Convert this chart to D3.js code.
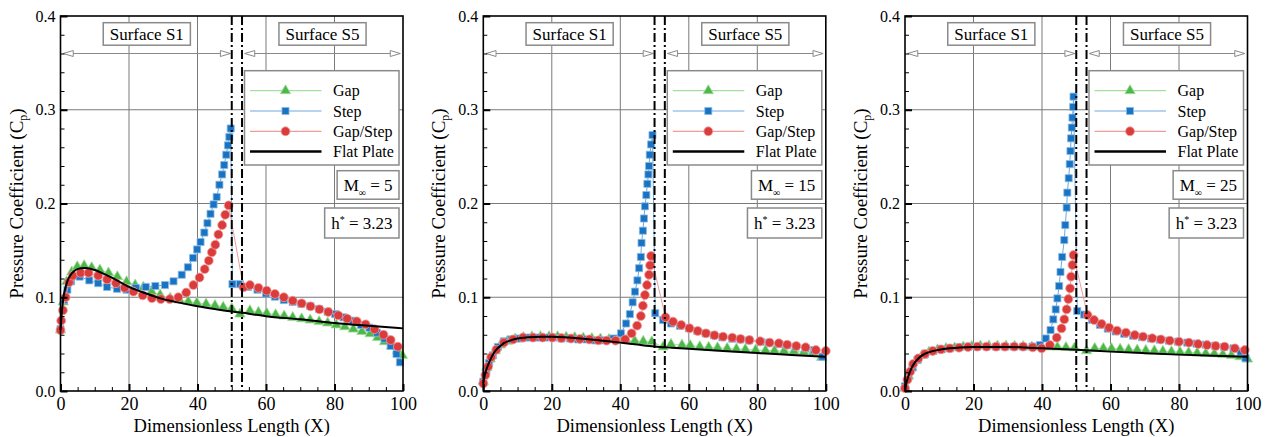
<!DOCTYPE html>
<html>
<head>
<meta charset="utf-8">
<script src="https://cdn.jsdelivr.net/npm/d3@7"></script>
<style>
body { margin: 0; background: #fff; }
</style>
</head>
<body>
<script>
var w = 1276, h = 437;

// ---- data ----
var machNumbers = [5, 15, 25];
var hStar = "3.23";
var seriesNames = ["Gap", "Step", "Gap/Step", "Flat Plate"];
var xTicks = [0, 20, 40, 60, 80, 100];
var yTicks = [0, 0.1, 0.2, 0.3, 0.4];
var gapEdges = [50, 53];
var surfaceNames = ["Surface S1", "Surface S5"];
var surfaceStart = [0.8, 53.8];
var surfaceEnd = [49.6, 99.2];
var surfaceArrowY = 0.36;

var gapM5 = [[0,0.065],[0.8,0.095],[1.8,0.1166],[3.3,0.127],[4.9,0.1326],[6.9,0.1337],[9.1,0.1316],[11.5,0.129],[14,0.126],[16.6,0.122],[19.3,0.1166],[21.8,0.113],[24.2,0.1106],[26.6,0.106],[29.1,0.1025],[32,0.099],[34.7,0.097],[37.3,0.0955],[39.8,0.094],[42.5,0.0928],[45.1,0.0912],[47.5,0.0895],[50,0.088],[52.4,0.082],[55.3,0.0857],[57.8,0.084],[60.2,0.083],[62.8,0.0815],[65.3,0.080],[67.8,0.0785],[70.4,0.077],[72.9,0.0757],[75.5,0.074],[78,0.0725],[80.5,0.0705],[83,0.0685],[85.5,0.066],[88,0.0635],[90.4,0.061],[92.6,0.057],[94.6,0.0525],[96.6,0.048],[98.4,0.043],[99.8,0.038]];
var stepM5 = [[0,0.066],[1,0.097],[2,0.108],[3.1,0.117],[5.6,0.122],[8.4,0.118],[11,0.115],[13.6,0.111],[16.5,0.109],[19.3,0.108],[22,0.110],[24.9,0.111],[27.7,0.112],[30.5,0.113],[33,0.117],[35.4,0.124],[37.2,0.132],[38.7,0.142],[39.9,0.151],[40.9,0.159],[42,0.169],[42.9,0.179],[43.8,0.189],[44.7,0.199],[45.6,0.207],[46.4,0.220],[47.2,0.231],[47.8,0.241],[48.4,0.252],[48.9,0.262],[49.3,0.271],[49.7,0.280],[50.2,0.114],[52.4,0.114],[54.8,0.111],[57.5,0.108],[60,0.104],[62.6,0.1006],[65.2,0.097],[67.8,0.095],[70.3,0.093],[72.9,0.0907],[75.5,0.0875],[78,0.0846],[80.2,0.082],[82.6,0.0786],[85.2,0.075],[87.7,0.0704],[90.2,0.0675],[92.4,0.0622],[94.6,0.0558],[96.4,0.048],[98.1,0.0395],[99.1,0.0306]];
var gapStepM5 = [[0,0.065],[0.2,0.075],[0.7,0.086],[1.5,0.100],[2.5,0.116],[3.6,0.123],[5.9,0.126],[8.2,0.126],[11,0.123],[13.6,0.119],[16.2,0.115],[18.7,0.110],[21.3,0.106],[24,0.102],[26.7,0.099],[29.3,0.098],[31.9,0.098],[34.4,0.100],[36.7,0.105],[38.8,0.113],[40.6,0.121],[42.1,0.130],[43.3,0.139],[44.2,0.148],[45.2,0.156],[46.1,0.167],[47.2,0.177],[48.1,0.188],[49.1,0.198],[53.4,0.1106],[55.3,0.113],[57.8,0.110],[60.2,0.107],[62.6,0.1035],[65.2,0.100],[67.8,0.0963],[70.4,0.0935],[73,0.0903],[75.6,0.0871],[78.2,0.0843],[81.1,0.0807],[83.7,0.0772],[86.5,0.0743],[89.1,0.0711],[91.7,0.0658],[94.3,0.060],[96.4,0.0544],[98.5,0.0473]];
var flatM5 = [[0,0.065],[0.3,0.08],[0.6,0.092],[1,0.103],[1.5,0.111],[2,0.117],[3,0.124],[4,0.128],[5,0.130],[6,0.131],[7,0.1312],[8,0.131],[10,0.129],[12,0.126],[15,0.121],[20,0.111],[25,0.104],[30,0.098],[35,0.094],[40,0.0905],[45,0.0875],[50,0.0848],[55,0.0825],[60,0.0798],[70,0.0765],[80,0.0725],[90,0.0695],[100,0.0668]];

var gapM15 = [[0,0.010],[1,0.025],[2,0.034],[3.5,0.043],[5,0.049],[7,0.053],[9.3,0.0555],[11.7,0.057],[14.2,0.0578],[16.7,0.058],[19.2,0.058],[21.7,0.058],[24.2,0.0575],[26.7,0.057],[29.2,0.0565],[31.7,0.056],[34.2,0.0555],[36.7,0.055],[39.2,0.0545],[41.7,0.054],[44.2,0.0535],[46.7,0.053],[49.2,0.0525],[52.5,0.047],[54.8,0.0498],[58,0.049],[60.4,0.0487],[63.2,0.0473],[65.8,0.0466],[68.4,0.0462],[71.2,0.0455],[73.9,0.0448],[76.5,0.0444],[79.5,0.0437],[82.4,0.0433],[85,0.043],[87.8,0.0426],[90.7,0.0423],[93.6,0.0416],[96.3,0.041],[98.8,0.0358]];
var stepM15 = [[0,0.010],[0.9,0.021],[1.7,0.030],[2.8,0.038],[4.3,0.047],[6,0.053],[8.2,0.055],[10.6,0.056],[13.1,0.057],[15.5,0.057],[18,0.057],[20.4,0.057],[22.8,0.056],[25.3,0.056],[27.7,0.055],[30.1,0.055],[32.6,0.054],[35,0.054],[38,0.056],[40.2,0.0615],[41.7,0.072],[42.8,0.082],[43.6,0.0946],[44.3,0.106],[45,0.118],[45.5,0.131],[46,0.143],[46.2,0.158],[46.6,0.171],[46.9,0.184],[47.2,0.197],[47.6,0.209],[47.9,0.221],[48.2,0.231],[48.4,0.240],[48.6,0.252],[49,0.263],[49.4,0.273],[50.2,0.083],[52.5,0.0757],[54.8,0.072],[57.4,0.0695],[60,0.0669],[62.5,0.064],[64.9,0.0615],[67.3,0.0594],[69.8,0.0573],[72.7,0.0558],[75.1,0.055],[77.6,0.054],[81,0.0526],[83.4,0.0516],[86.3,0.050],[88.7,0.0487],[91.2,0.0473],[94.1,0.0455],[96.6,0.0437],[99,0.0366]];
var gapStepM15 = [[0,0.008],[0.6,0.017],[1.4,0.026],[2.3,0.036],[3.8,0.044],[6,0.0516],[8.7,0.055],[11.6,0.057],[14.5,0.057],[17.3,0.057],[20.1,0.057],[22.8,0.0565],[25.6,0.056],[28.2,0.0555],[31,0.055],[33.6,0.054],[36,0.0537],[38.6,0.0537],[41.4,0.055],[43.3,0.0615],[44.9,0.0697],[46,0.080],[46.6,0.091],[47.2,0.1024],[47.8,0.113],[48.4,0.124],[48.7,0.134],[49,0.144],[53.2,0.0786],[55.4,0.074],[57.8,0.0704],[60.2,0.0669],[62.6,0.064],[65,0.0615],[67.5,0.0594],[70,0.058],[72.7,0.0569],[75.1,0.0555],[77.7,0.0544],[80.8,0.053],[83.6,0.0516],[86.3,0.0509],[88.7,0.0494],[91.4,0.048],[94.1,0.0466],[97.1,0.0437],[100,0.0427]];
var flatM15 = [[0,0.008],[0.5,0.018],[1,0.024],[2,0.033],[3,0.040],[4,0.045],[5,0.048],[6,0.051],[8,0.054],[10,0.056],[13,0.0573],[17,0.058],[20,0.058],[25,0.057],[30,0.0555],[35,0.0535],[40,0.0516],[45,0.0495],[50,0.0475],[55,0.0462],[60,0.045],[70,0.0427],[80,0.0405],[90,0.0385],[100,0.0366]];

var gapM25 = [[0,0.003],[1,0.016],[2,0.025],[3.5,0.033],[5,0.038],[7,0.0415],[9.5,0.044],[12,0.0455],[14.5,0.046],[17,0.047],[19.5,0.0475],[22,0.048],[24.5,0.048],[27,0.048],[29.5,0.048],[32,0.0478],[34.5,0.0475],[37,0.047],[39.5,0.047],[42,0.047],[44.5,0.0468],[47,0.0465],[49.5,0.046],[53,0.043],[55.4,0.0455],[57.9,0.0455],[60.3,0.0452],[62.8,0.0447],[65.3,0.0442],[67.8,0.0437],[70.3,0.0433],[72.8,0.043],[75.3,0.0425],[77.8,0.042],[80.3,0.0415],[82.8,0.041],[85.3,0.0405],[87.8,0.040],[90.3,0.0397],[92.8,0.039],[95.3,0.038],[97.8,0.0365],[100,0.034]];
var stepM25 = [[0,0.005],[1,0.015],[2.2,0.025],[3.6,0.033],[5.8,0.039],[8.3,0.0427],[10.7,0.0444],[13.1,0.0455],[15.9,0.0466],[18.5,0.0473],[21.1,0.0473],[23.8,0.0473],[26.6,0.0473],[29.2,0.0473],[31.8,0.0473],[34.5,0.0473],[37.2,0.0473],[39.4,0.049],[41.1,0.056],[42.5,0.065],[43.3,0.0764],[44,0.087],[44.5,0.0988],[45,0.112],[45.4,0.127],[45.9,0.143],[46.5,0.161],[46.8,0.177],[47.2,0.1956],[47.4,0.2116],[47.8,0.227],[48.1,0.242],[48.3,0.256],[48.5,0.2695],[48.7,0.281],[48.9,0.2916],[49.1,0.303],[49.2,0.314],[50.3,0.0853],[52.3,0.0815],[54.6,0.076],[56.9,0.0705],[59.2,0.0665],[61.5,0.0635],[64,0.061],[66.6,0.059],[69.2,0.0575],[71.8,0.056],[74.4,0.0548],[77,0.0537],[79.7,0.0526],[82.4,0.0516],[85.1,0.0505],[87.8,0.0494],[90.5,0.0483],[93.2,0.047],[95.9,0.0455],[98,0.042],[99.4,0.035]];
var gapStepM25 = [[0,0.003],[0.7,0.012],[1.5,0.0206],[2.4,0.0288],[3.9,0.0348],[5.8,0.0395],[8.1,0.0427],[10.5,0.0444],[13.1,0.0455],[15.8,0.0462],[18.4,0.0469],[21.1,0.0473],[23.8,0.0473],[26.6,0.0473],[29.2,0.0473],[31.9,0.0473],[34.5,0.0473],[37.3,0.0466],[39.9,0.0455],[42.3,0.049],[44.3,0.0569],[45.7,0.0668],[46.5,0.0764],[47.2,0.0871],[47.7,0.0981],[48.2,0.1095],[48.5,0.122],[48.9,0.1344],[49.2,0.145],[53.3,0.081],[55.2,0.0757],[57.4,0.0715],[59.6,0.0676],[61.9,0.0644],[64.5,0.0622],[67.1,0.0597],[69.5,0.058],[72.2,0.0562],[74.7,0.055],[77.3,0.0537],[80,0.0526],[82.9,0.0516],[85.6,0.0501],[88.2,0.049],[90.7,0.048],[93.3,0.0473],[96.3,0.0455],[99.2,0.0437]];
var flatM25 = [[0,0.002],[0.5,0.010],[1,0.016],[2,0.025],[3,0.031],[4,0.035],[5,0.038],[6,0.040],[8,0.0425],[10,0.044],[13,0.0455],[16,0.0465],[20,0.047],[25,0.047],[30,0.047],[35,0.0465],[40,0.0455],[45,0.0448],[50,0.044],[60,0.042],[70,0.0403],[80,0.0388],[90,0.0375],[100,0.0365]];

var gapSeries = [gapM5, gapM15, gapM25];
var stepSeries = [stepM5, stepM15, stepM25];
var gapStepSeries = [gapStepM5, gapStepM15, gapStepM25];
var flatSeries = [flatM5, flatM15, flatM25];

// pick the first serif face that is really installed
function pickFont(cands) {
  var c = document.createElement("canvas").getContext("2d");
  var s = "Pressure Coefficient 0123456789 mmmwwwiiilll";
  function wd(f) { c.font = "40px " + f; return c.measureText(s).width; }
  for (var i = 0; i < cands.length; i++) {
    var f = '"' + cands[i] + '"';
    if (wd(f + ", monospace") !== wd("monospace") || wd(f + ", sans-serif") !== wd("sans-serif")) return f + ", serif";
  }
  return "serif";
}
var serif = pickFont(["Liberation Serif", "Tinos", "Times New Roman", "Nimbus Roman", "Nimbus Roman No9 L",
  "FreeSerif", "DejaVu Serif", "Noto Serif", "Times", "Georgia", "Noto Serif CJK SC", "Noto Serif CJK JP"]);

// ---- layout ----
var plotLefts = [60.5, 483.3, 905];
var plotTop = 16, plotW = 342.5, plotH = 375;

var styles = [
  { sym: d3.symbolTriangle, size: 46, fill: "#4cb848", stroke: "#a3da9d", line: "#a8dda2" },
  { sym: d3.symbolSquare, size: 50, fill: "#1a72c2", stroke: "#86bbe6", line: "#6ea9dd" },
  { sym: d3.symbolCircle, size: 62, fill: "#dc3b3b", stroke: "#ef9e9e", line: "#ec9d9d" }
];

var svg = d3.select("body").append("svg").attr("width", w).attr("height", h)
  .style("font-family", serif);

var x = d3.scaleLinear().domain([0, 100]).range([0, plotW]);
var y = d3.scaleLinear().domain([0, 0.4]).range([plotH, 0]);

function boxText(g, right, top, hgt, build) {
  var t = g.append("text").attr("y", top + hgt / 2).attr("dy", "0.35em").style("font-size", "17px");
  build(t);
  var tw = t.node().getComputedTextLength();
  var bw = tw + 13;
  g.insert("rect", function () { return t.node(); })
    .attr("x", right - bw).attr("y", top).attr("width", bw).attr("height", hgt)
    .attr("fill", "#fff").attr("stroke", "#8a8a8a").attr("stroke-width", 1.5);
  t.attr("x", right - bw + 6.5);
}

machNumbers.forEach(function (mach, p) {
  var g = svg.append("g").attr("transform", "translate(" + plotLefts[p] + "," + plotTop + ")");

  // grid
  g.selectAll(".gx").data(xTicks.slice(1, -1)).enter().append("line")
    .attr("x1", x).attr("x2", x).attr("y1", 0).attr("y2", plotH)
    .attr("stroke", "#7a7a7a").attr("stroke-width", 1);
  g.selectAll(".gy").data(yTicks.slice(1, -1)).enter().append("line")
    .attr("y1", y).attr("y2", y).attr("x1", 0).attr("x2", plotW)
    .attr("stroke", "#7a7a7a").attr("stroke-width", 1);

  // surface arrows
  surfaceNames.forEach(function (name, i) {
    var ya = y(surfaceArrowY), x0 = x(surfaceStart[i]), x1 = x(surfaceEnd[i]);
    g.append("line").attr("x1", x0).attr("x2", x1).attr("y1", ya).attr("y2", ya)
      .attr("stroke", "#8a8a8a").attr("stroke-width", 1);
    g.append("path").attr("d", "M" + x0 + "," + ya + "L" + (x0 + 10) + "," + (ya - 3) + "L" + (x0 + 10) + "," + (ya + 3) + "Z")
      .attr("fill", "#fff").attr("stroke", "#8a8a8a").attr("stroke-width", 1);
    g.append("path").attr("d", "M" + x1 + "," + ya + "L" + (x1 - 10) + "," + (ya - 3) + "L" + (x1 - 10) + "," + (ya + 3) + "Z")
      .attr("fill", "#fff").attr("stroke", "#8a8a8a").attr("stroke-width", 1);
    var cx = x((surfaceStart[i] + surfaceEnd[i]) / 2);
    var t = g.append("text").attr("x", cx).attr("y", 18).attr("dy", "0.35em")
      .attr("text-anchor", "middle").style("font-size", "17px").text(name);
    var tw = t.node().getComputedTextLength();
    g.insert("rect", function () { return t.node(); })
      .attr("x", cx - tw / 2 - 6.5).attr("y", 6.7).attr("width", tw + 13).attr("height", 22.5)
      .attr("fill", "#fff").attr("stroke", "#8a8a8a").attr("stroke-width", 1.5);
  });

  // series
  var sets = [gapSeries[p], stepSeries[p], gapStepSeries[p]];
  sets.forEach(function (data, k) {
    var st = styles[k];
    g.append("path").datum(data)
      .attr("d", d3.line().x(function (d) { return x(d[0]); }).y(function (d) { return y(d[1]); }))
      .attr("fill", "none").attr("stroke", st.line).attr("stroke-width", 1);
    g.selectAll(".m" + k).data(data).enter().append("path")
      .attr("transform", function (d) { return "translate(" + x(d[0]) + "," + y(d[1]) + ")"; })
      .attr("d", d3.symbol().type(st.sym).size(st.size))
      .attr("fill", st.fill).attr("stroke", st.stroke).attr("stroke-width", 0.8);
  });

  g.append("path").datum(flatSeries[p])
    .attr("d", d3.line().curve(d3.curveMonotoneX).x(function (d) { return x(d[0]); }).y(function (d) { return y(d[1]); }))
    .attr("fill", "none").attr("stroke", "#000").attr("stroke-width", 2);

  // gap edges (dash-dot)
  g.selectAll(".edge").data(gapEdges).enter().append("line")
    .attr("x1", x).attr("x2", x).attr("y1", 0).attr("y2", plotH)
    .attr("stroke", "#000").attr("stroke-width", 2).attr("stroke-dasharray", "9,3,2,3");

  // legend
  var lg = g.append("g");
  lg.append("rect").attr("x", 184).attr("y", 54.7).attr("width", 154.5).attr("height", 94.3)
    .attr("fill", "#fff").attr("stroke", "#8a8a8a").attr("stroke-width", 1.5);
  seriesNames.forEach(function (name, k) {
    var ry = 74.7 + k * 20.3;
    if (k < 3) {
      lg.append("line").attr("x1", 189.5).attr("x2", 261).attr("y1", ry).attr("y2", ry)
        .attr("stroke", styles[k].line).attr("stroke-width", 1.2);
      lg.append("path").attr("transform", "translate(225," + ry + ")")
        .attr("d", d3.symbol().type(styles[k].sym).size(styles[k].size))
        .attr("fill", styles[k].fill).attr("stroke", styles[k].stroke).attr("stroke-width", 0.8);
    } else {
      lg.append("line").attr("x1", 189.5).attr("x2", 261).attr("y1", ry).attr("y2", ry)
        .attr("stroke", "#000").attr("stroke-width", 2.5);
    }
    lg.append("text").attr("x", 272.5).attr("y", ry).attr("dy", "0.35em")
      .style("font-size", "16px").text(name);
  });

  // Mach and h* boxes
  boxText(g, 338.5, 154.7, 28.5, function (t) {
    t.append("tspan").text("M");
    t.append("tspan").attr("dy", 5).style("font-size", "10px").text("\u221E");
    t.append("tspan").attr("dy", -5).text(" = " + mach);
  });
  boxText(g, 338.5, 192, 30, function (t) {
    t.append("tspan").text("h");
    t.append("tspan").attr("dy", -6).style("font-size", "10px").text("*");
    t.append("tspan").attr("dy", 6).text(" = " + hStar);
  });

  // axes
  g.append("g").attr("transform", "translate(0," + plotH + ")")
    .call(d3.axisBottom(x).tickValues(d3.range(0, 101, 5).filter(function (v) { return v % 20; }))
      .tickSize(-4).tickFormat(""))
    .call(function (a) { a.select(".domain").remove(); a.selectAll("line").attr("stroke-width", 1); });
  g.append("g").attr("transform", "translate(0," + plotH + ")")
    .call(d3.axisBottom(x).tickValues(xTicks).tickSize(-7).tickPadding(6))
    .call(function (a) {
      a.attr("font-family", null).attr("font-size", 18);
      a.select(".domain").remove();
      a.selectAll("line").attr("stroke-width", 2);
    });
  g.append("g")
    .call(d3.axisLeft(y).tickValues(d3.range(0, 0.401, 0.02)).tickSize(-4).tickFormat(""))
    .call(function (a) { a.select(".domain").remove(); a.selectAll("line").attr("stroke-width", 1); });
  g.append("g")
    .call(d3.axisLeft(y).tickValues(yTicks).tickSize(-7).tickPadding(5).tickFormat(d3.format(".1f")))
    .call(function (a) {
      a.attr("font-family", null).attr("font-size", 16);
      a.select(".domain").remove();
      a.selectAll("line").attr("stroke-width", 2);
    });

  g.append("rect").attr("width", plotW).attr("height", plotH)
    .attr("fill", "none").attr("stroke", "#000").attr("stroke-width", 1.6);

  // axis titles
  g.append("text").attr("x", plotW / 2).attr("y", 416).attr("text-anchor", "middle")
    .style("font-size", "18.5px").text("Dimensionless Length (X)");
  var yt = g.append("text").attr("transform", "translate(-38," + (plotH / 2) + ") rotate(-90)")
    .attr("text-anchor", "middle").style("font-size", "19px");
  yt.append("tspan").text("Pressure Coefficient (C");
  yt.append("tspan").attr("dy", 4).style("font-size", "12px").text("p");
  yt.append("tspan").attr("dy", -4).text(")");
});
</script>
</body>
</html>
